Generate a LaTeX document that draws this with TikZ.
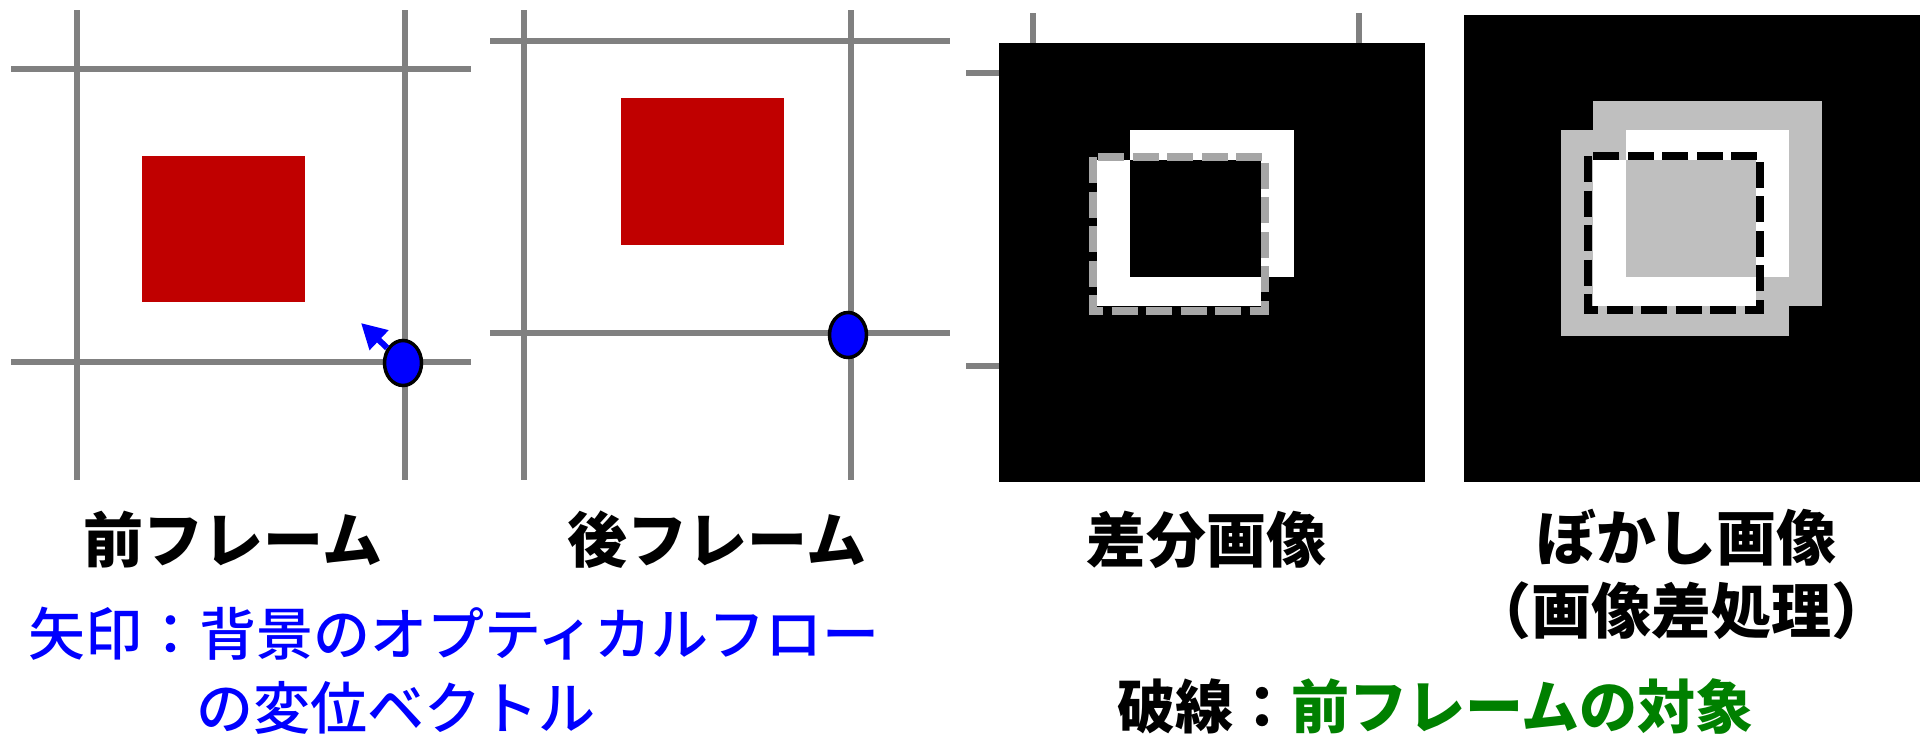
\documentclass[tikz,border=0pt]{standalone}
\usepackage{fontspec}
\newfontfamily\jp{Noto Sans CJK JP}
\newfontfamily\jpm{Noto Sans CJK JP Medium}
\usetikzlibrary{shapes.geometric,arrows.meta}
\definecolor{gridgray}{HTML}{808080}
\definecolor{objred}{HTML}{C00000}
\definecolor{dashgray}{HTML}{A6A6A6}
\definecolor{blurgray}{HTML}{BFBFBF}
\definecolor{dgreen}{HTML}{008000}
\begin{document}
\begin{tikzpicture}[x=1pt,y=-1pt,
  gridline/.style={draw=gridgray,line width=5.5pt},
  obj/.style={fill=objred},
  ptmark/.style={ellipse,draw=black,fill=blue,line width=3.5pt,minimum width=37pt,minimum height=45pt,inner sep=0pt},
  flow/.style={draw=blue,line width=6pt,-{Triangle[length=25pt,width=26pt]}},
  prevframe/.style={dash pattern=on 26pt off 8.5pt,line width=8pt},
  biglabel/.style={inner sep=0pt,font=\jp\bfseries\fontsize{60}{72}\selectfont},
  bluelabel/.style={inner sep=0pt,anchor=west,text=blue,font=\jpm\fontsize{57}{68}\selectfont},
  notelabel/.style={inner sep=0pt,anchor=west,font=\jp\bfseries\fontsize{58}{70}\selectfont}]
\useasboundingbox (0,0) rectangle (1925,734);

% ---- panel 1: previous frame
\draw[gridline] (77,10) -- (77,480);
\draw[gridline] (405,10) -- (405,480);
\draw[gridline] (11,69) -- (471,69);
\draw[gridline] (11,362) -- (471,362);
\fill[obj] (142,156) rectangle (305,302);
\node[ptmark] (e1) at (403,363) {};
\coordinate (tip1) at (361,323);
\draw[flow] (e1) -- (tip1);

% ---- panel 2: next frame
\draw[gridline] (524,10) -- (524,480);
\draw[gridline] (851,10) -- (851,480);
\draw[gridline] (490,41) -- (950,41);
\draw[gridline] (490,333) -- (950,333);
\fill[obj] (621,98) rectangle (784,245);
\node[ptmark] (e2) at (848,335) {};

% ---- panel 3: difference image
\draw[gridline] (1033,13) -- (1033,45);
\draw[gridline] (1359,13) -- (1359,45);
\draw[gridline] (966,73) -- (1001,73);
\draw[gridline] (966,366) -- (1001,366);
\fill[black] (999,43) rectangle (1425,482);
\fill[white] (1130,130) rectangle (1294,277);
\fill[white] (1097,160) rectangle (1261,306);
\fill[black] (1130,160) rectangle (1261,277);
\draw[prevframe,draw=dashgray] (1093,157) rectangle (1265,311);

% ---- panel 4: blurred image
\fill[black] (1464,15) rectangle (1920,482);
\fill[blurgray] (1593,101) rectangle (1822,306);
\fill[blurgray] (1561,130) rectangle (1789,336);
\fill[white] (1626,130) rectangle (1789,277);
\fill[white] (1593,160) rectangle (1756,306);
\fill[blurgray] (1626,160) rectangle (1756,277);
\draw[prevframe,draw=black] (1588,156) rectangle (1760,310);

% ---- labels
\node[biglabel] (l1) at (233,540) {前フレーム};
\node[biglabel] (l2) at (717,540) {後フレーム};
\node[biglabel] (l3) at (1206,540) {差分画像};
\node[biglabel] (l4) at (1686,538) {ぼかし画像};
\node[biglabel] (l5) at (1681,611) {（画像差処理）};
\node[bluelabel] (n1) at (28,634) {矢印：背景のオプティカルフロー};
\node[bluelabel] (n2) at (196,708) {の変位ベクトル};
\node[notelabel] (n3) at (1117,706) {破線：\textcolor{dgreen}{前フレームの対象}};
\end{tikzpicture}
\end{document}
